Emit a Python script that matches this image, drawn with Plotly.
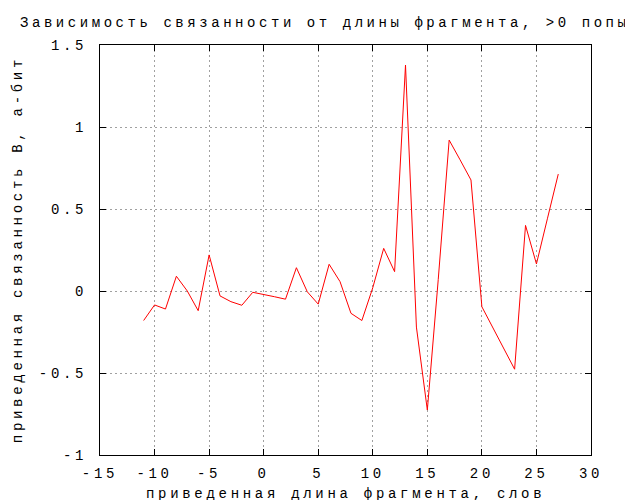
import plotly.graph_objects as go

# Data
fragment_length = list(range(-11, 28))
coherence = [
    -0.18, -0.085, -0.11, 0.09, 0.0, -0.12, 0.22, -0.03, -0.065, -0.087,
    -0.008, -0.02, -0.035, -0.05, 0.142, -0.005, -0.08, 0.163, 0.057, -0.136,
    -0.18, 0.02, 0.26, 0.118, 1.378, -0.22, -0.726, 0.07, 0.92, 0.8,
    0.677, -0.096, -0.226, -0.35, -0.477, 0.40, 0.165, 0.44, 0.713,
]

x_tick_vals = [-15, -10, -5, 0, 5, 10, 15, 20, 25, 30]
x_tick_text = ["-15", "-10", "-5", "0", "5", "10", "15", "20", "25", "30"]
y_tick_vals = [-1, -0.5, 0, 0.5, 1, 1.5]
y_tick_text = ["-1", "-0.5", "0", "0.5", "1", "1.5"]

title_text = "Зависимость связанности от длины фрагмента, >0 попыток"
x_title = "приведенная длина фрагмента, слов"
y_title = "приведенная связанность В, а-бит"

FONT = "Liberation Mono, Courier New, monospace"

fig = go.Figure()
fig.add_trace(go.Scatter(
    x=fragment_length, y=coherence, mode="lines",
    line=dict(color="#ff0000", width=1), showlegend=False,
))

axis_common = dict(
    showline=True, linecolor="black", linewidth=1, mirror="ticks",
    ticks="inside", ticklen=6, tickcolor="black", tickwidth=1,
    showgrid=True, gridcolor="#a0a0a0", gridwidth=1, griddash="2px,3px",
    zeroline=False, tickfont=dict(family=FONT, size=14, color="black"),
)

fig.update_xaxes(range=[-15, 30], tickmode="array", tickvals=x_tick_vals,
                 ticktext=x_tick_text, ticklabelstandoff=5, **axis_common)
fig.update_yaxes(range=[-1, 1.5], tickmode="array", tickvals=y_tick_vals,
                 ticktext=y_tick_text, ticklabelstandoff=9, **axis_common)

fig.update_layout(
    width=625, height=500,
    margin=dict(l=100, r=34, t=45, b=45, autoexpand=False),
    paper_bgcolor="white", plot_bgcolor="white",
    font=dict(family=FONT, size=14, color="black"),
    title=dict(text=title_text, x=20 / 625, xref="container", xanchor="left",
               y=1 - 22 / 500, yref="container", yanchor="middle",
               font=dict(family=FONT, size=14, color="black")),
    annotations=[
        dict(text=x_title, xref="paper", yref="paper", x=0.5, y=0,
             xanchor="center", yanchor="middle", yshift=-39, showarrow=False,
             font=dict(family=FONT, size=14, color="black")),
        dict(text=y_title, xref="paper", yref="paper", x=0, y=0.5,
             xanchor="center", yanchor="middle", xshift=-82, textangle=-90,
             showarrow=False, font=dict(family=FONT, size=14, color="black")),
    ],
)

post = """
var s=document.createElement('style');
s.innerHTML='html,body{margin:0 !important;padding:0 !important;overflow:hidden;} .main-svg text{letter-spacing:3.7px !important} .main-svg .gtitle{letter-spacing:3.55px !important}';
document.head.appendChild(s);
"""
fig.write_html("out.html", post_script=post, config={"displayModeBar": False})
